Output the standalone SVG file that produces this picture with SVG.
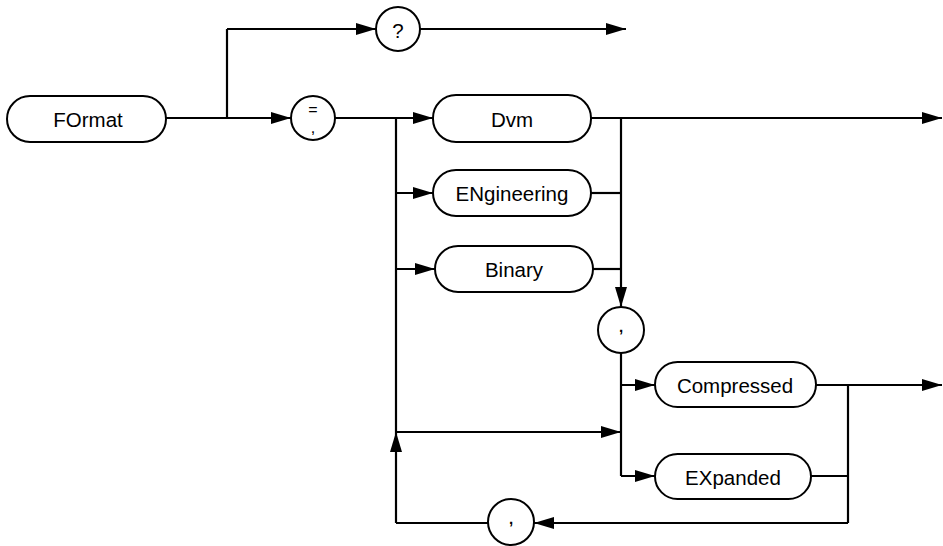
<svg xmlns="http://www.w3.org/2000/svg" width="943" height="546" viewBox="0 0 943 546">
<defs>
<marker id="ah" markerUnits="userSpaceOnUse" markerWidth="22" markerHeight="14" refX="20" refY="6" orient="auto">
<path d="M0,0 L20,6 L0,12 Z" fill="#000"/>
</marker>
<style>
.box{fill:#fff;stroke:#000;stroke-width:2}
.t{font-family:"Liberation Sans",Arial,sans-serif;font-size:20.5px;fill:#000;text-anchor:middle;dominant-baseline:central}
.c{fill:none;stroke:#000;stroke-width:2.2}
.a{marker-end:url(#ah)}
</style>
</defs>
<rect width="943" height="546" fill="#fff"/>
<g id="connectors">
<path class="c a" d="M166,118 L291,118"/>
<path class="c" d="M227,118 L227,29"/>
<path class="c a" d="M227,29 L376,29"/>
<path class="c a" d="M420,29 L626,29"/>
<path class="c" d="M335,118 L396,118"/>
<path class="c a" d="M396,118 L433,118"/>
<path class="c a" d="M396,193 L433,193"/>
<path class="c a" d="M396,269 L435,269"/>
<path class="c" d="M396,118 L396,432"/>
<path class="c a" d="M396,523 L396,432"/>
<path class="c a" d="M396,432 L621,432"/>
<path class="c a" d="M591,118 L942,118"/>
<path class="c a" d="M621,118 L621,307"/>
<path class="c" d="M591,193 L621,193"/>
<path class="c" d="M593,269 L621,269"/>
<path class="c" d="M621,353 L621,476"/>
<path class="c a" d="M621,385 L655,385"/>
<path class="c a" d="M621,476 L655,476"/>
<path class="c a" d="M816,385 L942,385"/>
<path class="c" d="M811,476 L848,476"/>
<path class="c" d="M848,385 L848,523"/>
<path class="c a" d="M848,523 L534,523"/>
<path class="c" d="M488,523 L396,523"/>
</g>
<g id="node-format">
<rect class="box" x="7" y="96" width="159" height="46" rx="23"/>
<text class="t" x="88" y="119">FOrmat</text>
</g>
<g id="node-query">
<circle class="box" cx="398" cy="29" r="22"/>
<text class="t" x="398" y="30">?</text>
</g>
<g id="node-eqcomma">
<circle class="box" cx="313" cy="118" r="22"/>
<text class="t" x="313" y="109" style="font-size:16px">=</text>
<text class="t" x="313" y="127" style="font-size:16px">,</text>
</g>
<g id="node-dvm">
<rect class="box" x="433" y="95" width="158" height="47" rx="23"/>
<text class="t" x="512" y="119">Dvm</text>
</g>
<g id="node-engineering">
<rect class="box" x="433" y="170" width="158" height="46" rx="23"/>
<text class="t" x="512" y="193">ENgineering</text>
</g>
<g id="node-binary">
<rect class="box" x="435" y="246" width="158" height="46" rx="23"/>
<text class="t" x="514" y="269">Binary</text>
</g>
<g id="node-comma1">
<circle class="box" cx="621" cy="330" r="23"/>
<text class="t" x="621" y="326" style="font-size:15px;font-weight:bold">,</text>
</g>
<g id="node-compressed">
<rect class="box" x="655" y="362" width="161" height="45" rx="22.5"/>
<text class="t" x="735" y="385">Compressed</text>
</g>
<g id="node-expanded">
<rect class="box" x="655" y="454" width="156" height="45" rx="22.5"/>
<text class="t" x="733" y="477">EXpanded</text>
</g>
<g id="node-comma2">
<circle class="box" cx="511" cy="522" r="23"/>
<text class="t" x="511" y="518" style="font-size:15px;font-weight:bold">,</text>
</g>
</svg>
